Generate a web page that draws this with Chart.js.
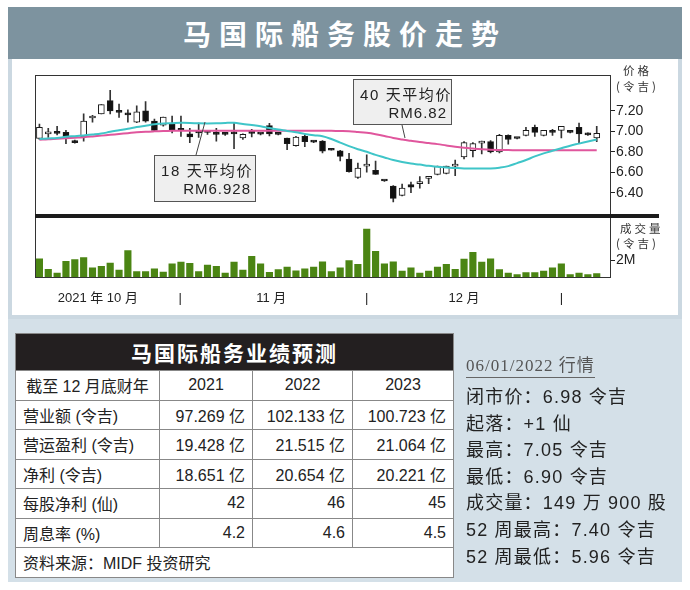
<!DOCTYPE html>
<html>
<head>
<meta charset="utf-8">
<script src="https://cdn.jsdelivr.net/npm/chart.js@4.4.1/dist/chart.umd.min.js"></script>
<style>
body{margin:0;width:690px;height:590px;background:#fff;position:relative;overflow:hidden;
  font-family:"Liberation Sans",Arial,"Noto Sans CJK SC",sans-serif;color:#222}
.abs{position:absolute}
#head{left:8px;top:7px;width:674px;height:52px;background:#7d939f;color:#fff;font-weight:bold;
  font-size:28px;letter-spacing:8px;text-align:center;line-height:52px;font-family:"Noto Sans CJK SC",sans-serif}
#panel{left:8px;top:59px;width:674px;height:260px;box-sizing:border-box;background:#fff;
  border:4px solid #cbd8e1;border-top:none}
#bottom{left:8px;top:319px;width:674px;height:263px;background:#d4e0e8}
#frame{left:35px;top:75px;width:576px;height:203px;box-sizing:border-box;border:1px solid #333;pointer-events:none}
#sep{left:35px;top:214px;width:624px;height:4px;background:#1b1b1b}
.axlab{font-size:11.5px;letter-spacing:3px;color:#333;font-family:"Noto Sans CJK SC",sans-serif;white-space:nowrap}
.call{background:#efefef;border:1px solid #555;box-sizing:border-box;font-size:15px;color:#222;white-space:nowrap;
  font-family:"Liberation Sans","Noto Sans CJK SC",sans-serif}
.call .l1{position:absolute;left:6px;top:3px;letter-spacing:1.6px}
.call .l2{position:absolute;right:4px;top:24px;letter-spacing:1px}
table{border-collapse:collapse;table-layout:fixed;background:#fff}
td{border:1px solid #888;height:28.5px;padding:0 7px;font-size:16px;white-space:nowrap}
td.n{text-align:right}
td.c{text-align:center}
#tt{background:#231f20;color:#fff;font-weight:bold;font-size:21px;letter-spacing:2px;text-align:center;height:36px;
  font-family:"Noto Sans CJK SC",sans-serif}
#info{left:466px;top:352px;font-size:18px;letter-spacing:1.2px;line-height:26.6px;color:#222;white-space:nowrap}
#date{font-family:"Liberation Serif","Noto Sans CJK SC",serif;font-size:17px;color:#555;
  border-bottom:1px solid #666;display:inline-block;line-height:22px;margin-bottom:6px;letter-spacing:1px}
</style>
</head>
<body>
<div id="head" class="abs">马国际船务股价走势</div>
<div id="panel" class="abs"></div>
<div id="bottom" class="abs"></div>

<div class="abs" style="left:30px;top:70px;width:640px;height:150px"><canvas id="price" width="640" height="150"></canvas></div>
<div class="abs" style="left:30px;top:214px;width:640px;height:100px"><canvas id="vol" width="640" height="100"></canvas></div>
<div id="frame" class="abs"></div>
<div id="sep" class="abs"></div>

<div class="abs axlab" style="left:623px;top:62px">价格</div>
<div class="abs axlab" style="left:616px;top:78px">(令吉)</div>
<div class="abs axlab" style="left:620px;top:220px">成交量</div>
<div class="abs axlab" style="left:616px;top:235px">(令吉)</div>

<svg class="abs" style="left:0;top:0" width="690" height="590">
  <line x1="196" y1="155" x2="205" y2="122" stroke="#444" stroke-width="1"/>
  <line x1="402" y1="125" x2="405" y2="138" stroke="#444" stroke-width="1"/>
</svg>
<div class="abs call" style="left:154px;top:155px;width:102px;height:47px"><span class="l1">18 天平均价</span><span class="l2">RM6.928</span></div>
<div class="abs call" style="left:353px;top:79px;width:99px;height:46px"><span class="l1">40 天平均价</span><span class="l2">RM6.82</span></div>

<table class="abs" style="left:15px;top:333px;width:438px">
  <colgroup><col style="width:144px"><col style="width:93px"><col style="width:100px"><col style="width:101px"></colgroup>
  <tr><td id="tt" colspan="4">马国际船务业绩预测</td></tr>
  <tr><td class="c">截至 12 月底财年</td><td class="c">2021</td><td class="c">2022</td><td class="c">2023</td></tr>
  <tr><td>营业额 (令吉)</td><td class="n">97.269 亿</td><td class="n">102.133 亿</td><td class="n">100.723 亿</td></tr>
  <tr><td>营运盈利 (令吉)</td><td class="n">19.428 亿</td><td class="n">21.515 亿</td><td class="n">21.064 亿</td></tr>
  <tr><td>净利 (令吉)</td><td class="n">18.651 亿</td><td class="n">20.654 亿</td><td class="n">20.221 亿</td></tr>
  <tr><td>每股净利 (仙)</td><td class="n">42</td><td class="n">46</td><td class="n">45</td></tr>
  <tr><td>周息率 (%)</td><td class="n">4.2</td><td class="n">4.6</td><td class="n">4.5</td></tr>
  <tr><td colspan="4">资料来源：MIDF 投资研究</td></tr>
</table>

<div id="info" class="abs">
  <div id="date">06/01/2022 行情</div>
  <div>闭市价：6.98 令吉</div>
  <div>起落：+1 仙</div>
  <div>最高：7.05 令吉</div>
  <div>最低：6.90 令吉</div>
  <div>成交量：149 万 900 股</div>
  <div>52 周最高：7.40 令吉</div>
  <div>52 周最低：5.96 令吉</div>
</div>

<script>
// 日K数据 (2021年10月 - 2022年1月6日)
const opens  = [6.93,6.975,7.00,6.99,6.91,6.945,7.13,7.17,7.30,7.19,7.18,7.09,7.20,7.10,7.06,7.07,7.02,6.975,6.995,6.99,
                6.99,6.97,6.99,6.935,6.98,6.972,7.055,6.97,6.935,6.86,6.95,6.90,6.905,6.82,6.81,6.73,6.55,6.66,6.62,6.515,
                6.465,6.375,6.48,6.49,6.54,6.58,6.59,6.66,6.75,6.81,6.885,6.90,6.80,6.96,6.93,6.96,7.04,6.96,7.005,7.01,
                6.99,7.04,6.98,6.935];
const highs  = [7.07,7.03,7.05,7.01,6.915,7.17,7.155,7.26,7.40,7.265,7.21,7.25,7.29,7.12,7.14,7.15,7.15,7.03,7.08,7.01,
                7.03,6.98,7.08,6.975,7.02,6.98,7.077,6.975,6.935,6.95,6.966,6.905,6.91,6.825,6.815,6.785,6.69,6.77,6.71,6.52,
                6.47,6.485,6.505,6.557,6.557,6.66,6.66,6.72,6.90,6.89,6.905,6.91,6.97,6.966,6.935,7.04,7.06,7.01,7.02,7.05,
                6.995,7.08,6.985,7.05];
const lows   = [6.92,6.94,6.965,6.88,6.885,6.905,7.09,7.17,7.17,7.135,7.09,7.085,7.09,7.00,7.05,6.985,6.95,6.89,6.94,6.97,
                6.905,6.96,6.83,6.92,6.945,6.965,6.954,6.965,6.82,6.855,6.85,6.89,6.79,6.815,6.71,6.60,6.54,6.60,6.58,6.51,
                6.31,6.37,6.40,6.444,6.49,6.575,6.585,6.567,6.73,6.75,6.78,6.79,6.79,6.874,6.925,6.955,6.95,6.955,6.96,6.935,
                6.985,6.89,6.96,6.90];
const closes = [7.04,6.985,6.98,6.935,6.89,7.10,7.15,7.26,7.20,7.185,7.16,7.19,7.10,7.01,7.14,7.01,7.01,6.945,6.985,6.99,
                6.97,6.97,6.975,6.97,6.98,6.972,6.975,6.97,6.88,6.945,6.90,6.895,6.806,6.815,6.755,6.605,6.64,6.68,6.58,6.515,
                6.345,6.445,6.455,6.51,6.55,6.66,6.66,6.68,6.89,6.88,6.895,6.80,6.96,6.92,6.93,7.01,6.99,7.01,6.99,7.05,
                6.99,6.975,6.965,6.98];
// 成交量 (百万)
const volumes = [2.2,0.94,0.47,1.9,2.1,2.35,1.1,1.3,1.7,0.83,3.2,0.65,0.65,1.0,0.6,1.6,1.8,1.65,0.65,1.45,
                 1.3,0.47,1.8,0.83,2.5,1.6,0.58,0.9,1.2,0.76,1.0,1.2,1.84,0.65,1.1,2.0,1.55,5.8,3.1,1.6,
                 1.84,0.72,1.1,0.47,0.72,1.2,1.55,0.94,2.16,3.0,1.8,2.2,0.9,0.47,0.3,0.54,0.54,0.72,1.1,1.6,
                 0.3,0.47,0.3,0.4];
// 18天与40天平均价
const ma18 = [6.925,6.93,6.935,6.947,6.953,6.96,6.968,6.978,6.995,7.01,7.025,7.042,7.055,7.068,7.077,7.08,7.083,7.082,7.078,7.077,
              7.078,7.082,7.083,7.072,7.062,7.05,7.032,7.017,7.004,6.99,6.975,6.962,6.952,6.925,6.89,6.855,6.825,6.80,6.77,6.745,
              6.72,6.70,6.685,6.675,6.663,6.655,6.647,6.642,6.638,6.637,6.637,6.638,6.645,6.66,6.69,6.72,6.755,6.785,6.81,6.835,
              6.86,6.88,6.90,6.92];
const ma40 = [6.918,6.922,6.928,6.933,6.938,6.943,6.95,6.958,6.966,6.974,6.982,6.99,6.996,7.0,7.003,7.005,7.006,7.006,7.006,7.006,
              7.006,7.006,7.006,7.006,7.006,7.006,7.006,7.006,7.006,7.006,7.006,7.006,7.006,7.005,7.003,7.0,6.993,6.985,6.972,6.955,
              6.935,6.92,6.907,6.895,6.885,6.875,6.862,6.85,6.84,6.832,6.825,6.82,6.818,6.817,6.816,6.816,6.816,6.816,6.816,6.816,
              6.816,6.816,6.816,6.816];

const priceTicks = [6.40, 6.60, 6.80, 7.00, 7.20];
const volTicks = [2];
const xTickPos = [6.6, 15.9, 26.2, 37, 48, 59];
const xTickLabels = ['2021 年 10 月', '|', '11 月', '|', '12 月', '|'];

const pts = arr => arr.map((v, i) => ({x: i, y: v}));
const bodies = opens.map((o, i) => ({x: i, y: [o, closes[i]]}));
const wicks = lows.map((l, i) => ({x: i, y: [l, highs[i]]}));
const bodyFill = opens.map((o, i) => closes[i] > o ? '#ffffff' : '#111111');

const font = '"Liberation Sans", Arial, "Noto Sans CJK SC", sans-serif';
Chart.defaults.font.family = font;

const xScale = {type: 'linear', min: -0.5, max: 64.5, offset: false, display: false};

new Chart(document.getElementById('price'), {
  type: 'bar',
  data: {
    datasets: [
      {type: 'line', data: pts(ma18), borderColor: '#3fc5c8', borderWidth: 2, pointRadius: 0, tension: 0.4, order: -2},
      {type: 'line', data: pts(ma40), borderColor: '#e0569d', borderWidth: 2, pointRadius: 0, tension: 0.4, order: -1},
      {data: bodies, backgroundColor: bodyFill, borderColor: '#1a1a1a', borderWidth: 1, borderSkipped: false,
       barThickness: 6, minBarLength: 2, grouped: false, order: 0},
      {data: wicks, backgroundColor: '#333', barThickness: 1, grouped: false, order: 1}
    ]
  },
  options: {
    responsive: false, animation: false,
    layout: {padding: {left: 5, top: 5, bottom: 6, right: 0}},
    plugins: {legend: {display: false}, tooltip: {enabled: false}},
    scales: {
      x: xScale,
      y: {
        position: 'right', min: 6.226, max: 7.507,
        afterBuildTicks: s => { s.ticks = priceTicks.map(v => ({value: v})); },
        afterFit: s => { s.width = 60; },
        grid: {drawOnChartArea: false, tickLength: 5, color: '#222'},
        border: {display: false},
        ticks: {color: '#222', font: {size: 14}, padding: 1, callback: v => v.toFixed(2)}
      }
    }
  }
});

new Chart(document.getElementById('vol'), {
  type: 'bar',
  data: {
    datasets: [
      {data: pts(volumes), backgroundColor: '#4b8513', barThickness: 6.5}
    ]
  },
  options: {
    responsive: false, animation: false,
    layout: {padding: {left: 5, top: 4, bottom: 0, right: 0}},
    plugins: {legend: {display: false}, tooltip: {enabled: false}},
    scales: {
      x: {
        type: 'linear', min: -0.5, max: 64.5, offset: false,
        afterBuildTicks: s => { s.ticks = xTickPos.map(v => ({value: v})); },
        afterFit: s => { s.height = 37; },
        grid: {display: false}, border: {display: false},
        ticks: {color: '#222', font: {size: 13}, padding: 6, maxRotation: 0, autoSkip: false,
                callback: (v, i) => xTickLabels[i]}
      },
      y: {
        position: 'right', min: 0, max: 6.5,
        afterBuildTicks: s => { s.ticks = volTicks.map(v => ({value: v})); },
        afterFit: s => { s.width = 60; },
        grid: {drawOnChartArea: false, tickLength: 5, color: '#222'},
        border: {display: false},
        ticks: {color: '#222', font: {size: 14}, padding: 1, callback: v => v + 'M'}
      }
    }
  }
});
</script>
</body>
</html>
